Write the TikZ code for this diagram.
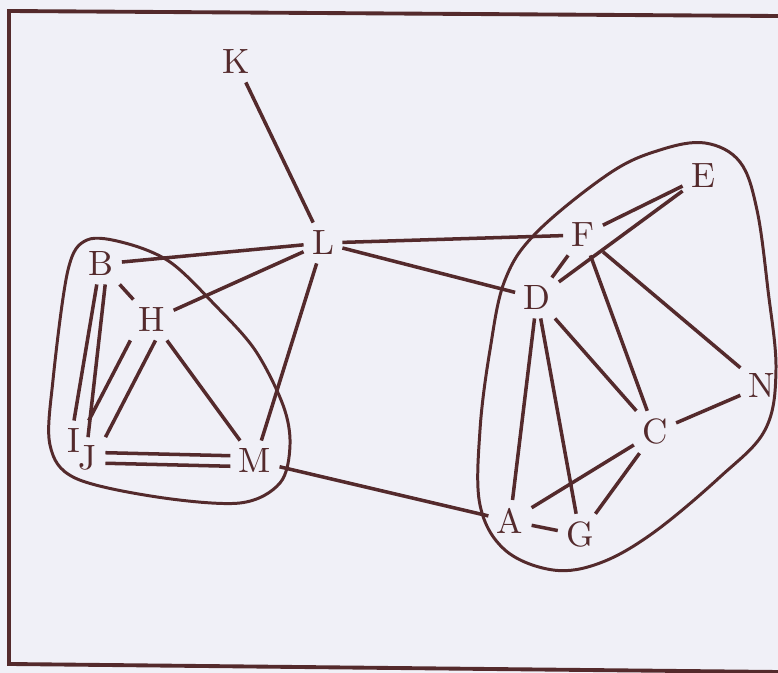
\documentclass[tikz,border=0pt]{standalone}
\usepackage{amsmath}
\usepackage{xcolor}
\usepackage{tikz}

\definecolor{ink}{RGB}{84,42,44}
\definecolor{paper}{RGB}{240,240,247}

\begin{document}
\begin{tikzpicture}[font=\fontsize{10}{12}\selectfont, ink,
  vert/.style={inner sep=2.2pt, text=ink},
  edge/.style={draw=ink, line width=1pt},
  blob/.style={draw=ink, line width=0.85pt}]
\useasboundingbox (0,0) rectangle (7.78,-6.73);
\fill[paper] (0,0) rectangle (7.78,-6.73);

% frame
\draw[line width=1.1pt] (7.78,-0.16) -- (0.09,-0.11) -- (0.09,-6.64) -- (7.78,-6.72);

% vertices
\node[vert] (K) at (2.36,-0.62) {K};
\node[vert] (L) at (3.23,-2.43) {L};
\node[vert] (B) at (1.01,-2.64) {B};
\node[vert] (H) at (1.52,-3.20) {H};
\node[vert] (I) at (0.74,-4.41) {I};
\node[vert] (J) at (0.88,-4.58) {J};
\node[vert] (M) at (2.55,-4.61) {M};
\node[vert] (F) at (5.83,-2.35) {F};
\node[vert] (E) at (7.03,-1.76) {E};
\node[vert] (D) at (5.37,-2.98) {D};
\node[vert] (N) at (7.62,-3.86) {N};
\node[vert] (C) at (6.55,-4.32) {C};
\node[vert] (A) at (5.10,-5.21) {A};
\node[vert] (G) at (5.80,-5.35) {G};

% components
\draw[blob] plot[smooth cycle, tension=0.55] coordinates {
  (0.87,-2.40) (1.25,-2.43) (1.70,-2.62) (2.15,-3.05) (2.55,-3.50)
  (2.83,-4.05) (2.90,-4.45) (2.80,-4.83) (2.40,-5.03) (1.57,-4.97)
  (0.75,-4.78) (0.50,-4.45) (0.53,-3.80) (0.68,-2.70)};
\draw[blob] plot[smooth cycle, tension=0.6] coordinates {
  (6.10,-1.73) (6.60,-1.50) (7.05,-1.43) (7.40,-1.62) (7.57,-2.10)
  (7.68,-2.90) (7.76,-3.70) (7.65,-4.30) (7.20,-4.77) (6.53,-5.33)
  (6.00,-5.63) (5.53,-5.70) (5.05,-5.50) (4.80,-5.05) (4.80,-4.30)
  (4.90,-3.50) (5.05,-2.80) (5.37,-2.32)};

% edges
\draw[edge] (K) -- (L);
\draw[edge] (L) -- (B);
\draw[edge] (L) -- (H);
\draw[edge] (L) -- (M);
\draw[edge] (L) -- (F);
\draw[edge] (L) -- (D);
\draw[edge] (B) -- (H);
\draw[edge] ([xshift=-1.2pt]B.south) -- (I.north);
\draw[edge] ([xshift=1.2pt]B.south) -- (J.north);
\draw[edge] (H.south west) -- (I.north east);
\draw[edge] ([xshift=1pt]H.south) -- (J.north east);
\draw[edge] (H) -- (M);
\draw[edge] ([yshift=1.5pt]J.east) -- ([yshift=1.5pt]M.west);
\draw[edge] ([yshift=-1.5pt]J.east) -- ([yshift=-1.5pt]M.west);
\draw[edge] (M) -- (A);
\draw[edge] (F) -- (E);
\draw[edge] (D) -- (E);
\draw[edge] (F) -- (D);
\draw[edge] (F) -- (C);
\draw[edge] (F) -- (N);
\draw[edge] (D) -- (C);
\draw[edge] (D) -- (A);
\draw[edge] (D) -- (G);
\draw[edge] (C) -- (N);
\draw[edge] (C) -- (A);
\draw[edge] (C) -- (G);
\draw[edge] (A) -- (G);
\end{tikzpicture}
\end{document}
